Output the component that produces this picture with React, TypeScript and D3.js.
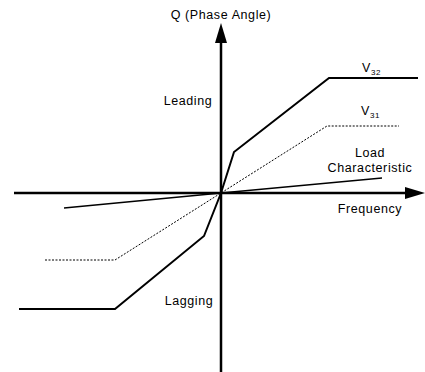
import React from "react";
import * as d3 from "d3";

type P = [number, number];

const v32Points: P[] = [[-202, -116], [-106, -116], [-17, -43], [0, 0], [13, 41], [108, 115], [197, 115]];
const v31Points: P[] = [[-176, -67], [-106, -67], [0, 0], [106, 67], [178, 67]];
const loadPoints: P[] = [[-157, -15], [0, 0], [161, 15]];

const xDomain: P = [-207, 204];
const yDomain: P = [-178, 170];

export default function App() {
  const W = 425, H = 372;
  const x = d3.scaleLinear().domain(xDomain).range([14, 425]);
  const y = d3.scaleLinear().domain(yDomain).range([371, 23]);
  const line = d3.line<P>().x(d => x(d[0])).y(d => y(d[1]));
  const ox = x(0), oy = y(0);
  const font = "Arial, 'Liberation Sans', sans-serif";
  const ts = { fontFamily: font, fontSize: 12.5, letterSpacing: 0.6, fill: "#000" } as React.CSSProperties;
  return (
    <svg width={W} height={H} style={{ position: "absolute", left: 0, top: 0, background: "#fff" }}>
      <rect width={W} height={H} fill="#fff" />
      {/* axes */}
      <line x1={x(xDomain[0])} y1={oy} x2={407} y2={oy} stroke="#000" strokeWidth={2.5} />
      <path d={`M425,${oy} L405,${oy - 6} L405,${oy + 6} Z`} fill="#000" />
      <line x1={ox} y1={372} x2={ox} y2={40} stroke="#000" strokeWidth={2.5} />
      <path d={`M${ox},23 L${ox - 6},43 L${ox + 6},43 Z`} fill="#000" />
      {/* series */}
      <path d={line(v32Points) || ""} fill="none" stroke="#000" strokeWidth={2} />
      <path d={line(v31Points) || ""} fill="none" stroke="#000" strokeWidth={1} strokeDasharray="2,1.5" />
      <path d={line(loadPoints) || ""} fill="none" stroke="#000" strokeWidth={1.3} />
      {/* labels */}
      <text x={ox} y={19} textAnchor="middle" style={ts}>Q (Phase Angle)</text>
      <text x={188} y={105} textAnchor="middle" style={ts}>Leading</text>
      <text x={189} y={305} textAnchor="middle" style={ts}>Lagging</text>
      <text x={362} y={72} style={ts}>V<tspan fontSize={8} dy={3}>32</tspan></text>
      <text x={361} y={115} style={ts}>V<tspan fontSize={8} dy={3}>31</tspan></text>
      <text x={370} y={157} textAnchor="middle" style={ts}>Load</text>
      <text x={370} y={172} textAnchor="middle" style={ts}>Characteristic</text>
      <text x={370} y={213} textAnchor="middle" style={ts}>Frequency</text>
    </svg>
  );
}
